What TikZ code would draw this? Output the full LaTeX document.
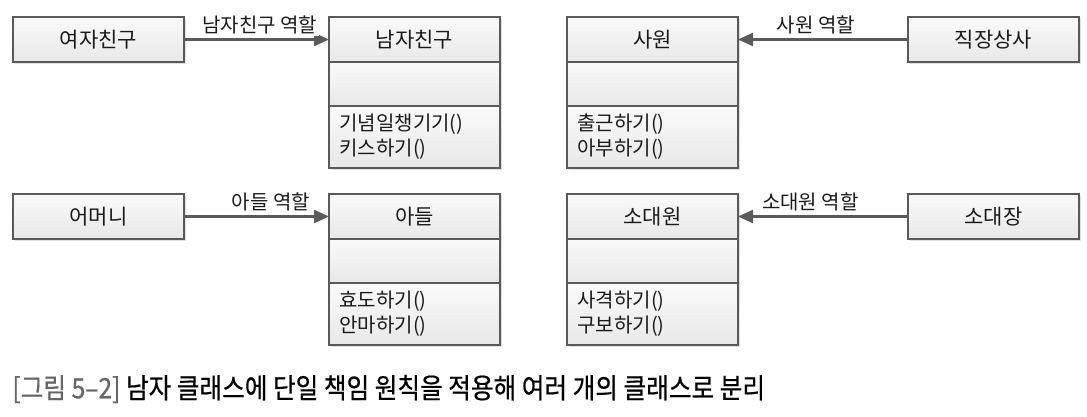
\documentclass[tikz,border=0pt]{standalone}
\usepackage{fontspec}
\setmainfont{Noto Sans CJK KR}
\newfontfamily\capfont[FakeBold=0.6]{Noto Sans CJK KR}
\usepackage{graphicx}
\usepackage{xcolor}
\usetikzlibrary{arrows.meta,positioning,shadows}
\definecolor{edge}{HTML}{5A5A5A}
\definecolor{ink}{HTML}{1A1A1A}
\definecolor{capgray}{HTML}{666666}

\tikzset{
  box/.style={draw=edge, line width=0.6pt, top color=black!2, bottom color=black!9,
    drop shadow={shadow xshift=1pt, shadow yshift=-1pt, fill=black!12, opacity=1},
    minimum width=85.5pt, minimum height=22.5pt, inner sep=0pt, outer sep=0pt,
    text=ink, font=\fontsize{10.5}{12}\selectfont},
  attrbox/.style={box, minimum height=22pt},
  opsbox/.style={box, minimum height=31pt, text width=75pt, align=left,
    font=\fontsize{10}{12.5}\selectfont},
  role/.style={fill=white, inner sep=1pt, yshift=1pt, text=ink, font=\fontsize{10}{11}\selectfont},
  assoc/.style={draw=edge, line width=1.1pt, -{Triangle[length=7.5pt,width=6.5pt]}},
}

\begin{document}
\begin{tikzpicture}[x=0.5pt,y=-0.5pt]
  \useasboundingbox (0,0) rectangle (1087,417);

  % 남자친구 (top left)
  \node[box] (girlfriend) at (98.5,39.5) {여자친구};
  \node[box] (boyfriend) at (414.5,39.5) {남자친구};
  \node[attrbox, below=0pt of boyfriend] (boyfriend-attr) {};
  \node[opsbox, below=0pt of boyfriend-attr] (boyfriend-ops) {기념일챙기기()\\키스하기()};
  \draw[assoc] (girlfriend) -- node[role, pos=0.94, anchor=south east] {남자친구 역할} (boyfriend);

  % 사원 (top right)
  \node[box] (employee) at (652.5,39.5) {사원};
  \node[attrbox, below=0pt of employee] (employee-attr) {};
  \node[opsbox, below=0pt of employee-attr] (employee-ops) {출근하기()\\아부하기()};
  \node[box] (boss) at (993.5,39.5) {직장상사};
  \draw[assoc] (boss) -- node[role, pos=0.79, anchor=south west] {사원 역할} (employee);

  % 아들 (bottom left)
  \node[box] (mother) at (98.5,216.5) {어머니};
  \node[box] (son) at (414.5,216.5) {아들};
  \node[attrbox, below=0pt of son] (son-attr) {};
  \node[opsbox, below=0pt of son-attr] (son-ops) {효도하기()\\안마하기()};
  \draw[assoc] (mother) -- node[role, pos=0.89, anchor=south east] {아들 역할} (son);

  % 소대원 (bottom right)
  \node[box] (soldier) at (652.5,216.5) {소대원};
  \node[attrbox, below=0pt of soldier] (soldier-attr) {};
  \node[opsbox, below=0pt of soldier-attr] (soldier-ops) {사격하기()\\구보하기()};
  \node[box] (leader) at (993.5,216.5) {소대장};
  \draw[assoc] (leader) -- node[role, pos=0.876, anchor=south west] {소대원 역할} (soldier);

  % caption
  \node[anchor=west, inner sep=0pt, text=black, font=\capfont\fontsize{14}{16}\selectfont] (caption) at (12,389)
    {\scalebox{0.88}[1]{\textcolor{capgray}{[그림 5–2]} 남자 클래스에 단일 책임 원칙을 적용해 여러 개의 클래스로 분리}};
\end{tikzpicture}
\end{document}
